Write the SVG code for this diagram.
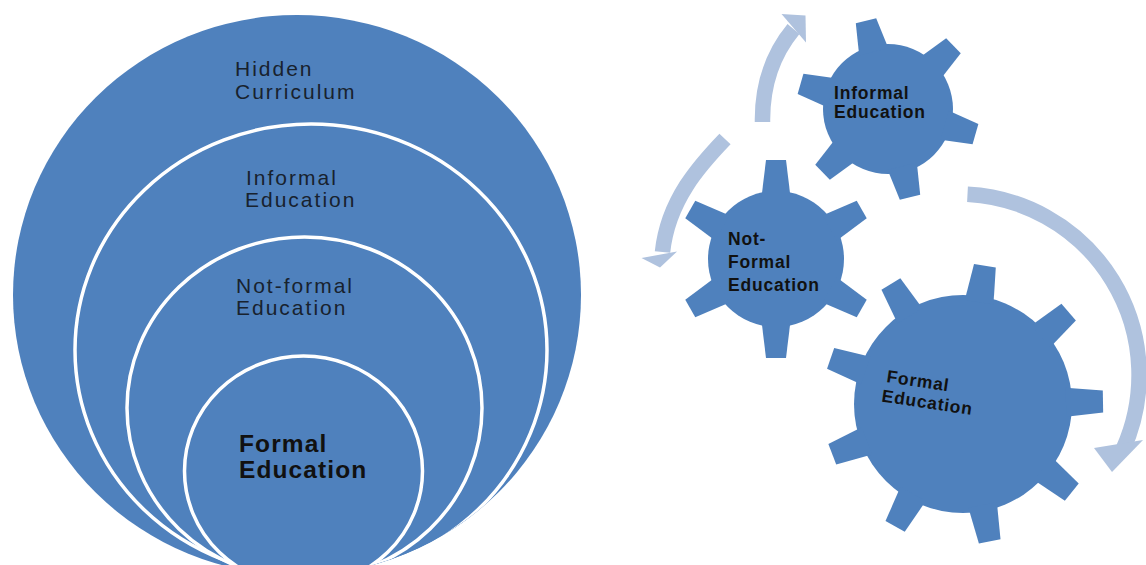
<svg xmlns="http://www.w3.org/2000/svg" width="1146" height="565" viewBox="0 0 1146 565">
<style>
.disc { fill: #4F81BD; }
.ring { fill: #4F81BD; stroke: #FFFFFF; stroke-width: 3.5; }
.gear { fill: #4F81BD; }
.lt { font-family: "Liberation Sans", Arial, sans-serif; font-size: 21px; letter-spacing: 2px; fill: #18222e; }
.lb { font-family: "Liberation Sans", Arial, sans-serif; font-size: 24.5px; font-weight: bold; letter-spacing: 1.1px; fill: #111111; }
.gt { font-family: "Liberation Sans", Arial, sans-serif; font-size: 17.5px; font-weight: bold; letter-spacing: 0.8px; fill: #111111; }
.band { fill: none; stroke: #AFC2DE; stroke-width: 15.5; stroke-linecap: butt; }
.head { fill: #AFC2DE; }
</style>
<defs>
<clipPath id="outerClip">
<ellipse cx="297" cy="295" rx="284" ry="280"/>
</clipPath>
<polygon id="toothS" points="59,-15 91,-10.5 91,10.5 59,15"/>
<polygon id="toothN" points="62,-14.5 99,-10 99,10 62,14.5"/>
<polygon id="toothL" points="103,-14.5 140,-11 140,11 103,14.5"/>
</defs>
<rect width="1146" height="565" fill="#FFFFFF"/>

<g id="hidden-curriculum">
<ellipse class="disc" cx="297" cy="295" rx="284" ry="280"/>
<text class="lt" x="235" y="76">Hidden</text>
<text class="lt" x="235" y="99">Curriculum</text>
</g>

<g id="informal-education-ring">
<ellipse class="ring" cx="311" cy="350" rx="236" ry="226" clip-path="url(#outerClip)"/>
<text class="lt" x="246" y="185">Informal</text>
<text class="lt" x="245" y="207">Education</text>
</g>

<g id="not-formal-education-ring">
<ellipse class="ring" cx="304.5" cy="408" rx="177.5" ry="171" clip-path="url(#outerClip)"/>
<text class="lt" x="236" y="293">Not-formal</text>
<text class="lt" x="236" y="315">Education</text>
</g>

<g id="formal-education-ring">
<ellipse class="ring" cx="303.5" cy="471" rx="119" ry="115" clip-path="url(#outerClip)"/>
<text class="lb" x="239" y="452">Formal</text>
<text class="lb" x="239" y="478">Education</text>
</g>

<g id="connectors">
<path class="band" d="M 762.5 122 C 762 85, 772 55, 793.5 29"/>
<polygon class="head" points="781.5,14 806,42.5 805.5,15.5"/>
<path class="band" d="M 725 139 C 700 165, 668 200, 662.5 252"/>
<polygon class="head" points="641.5,258 677,251.5 660,267.5"/>
<path class="band" d="M 967.5 194.2 A 181 181 0 0 1 1123.4 448.6"/>
<polygon class="head" points="1094,448 1143,440 1112,472"/>
</g>

<g id="gear-informal">
<circle class="gear" cx="888" cy="109" r="65"/>
<use href="#toothS" class="gear" transform="translate(888,109) rotate(-104)"/>
<use href="#toothS" class="gear" transform="translate(888,109) rotate(-44)"/>
<use href="#toothS" class="gear" transform="translate(888,109) rotate(16)"/>
<use href="#toothS" class="gear" transform="translate(888,109) rotate(76)"/>
<use href="#toothS" class="gear" transform="translate(888,109) rotate(136)"/>
<use href="#toothS" class="gear" transform="translate(888,109) rotate(196)"/>
<text class="gt" x="834" y="99">Informal</text>
<text class="gt" x="834" y="118">Education</text>
</g>

<g id="gear-not-formal">
<circle class="gear" cx="776" cy="259" r="68"/>
<use href="#toothN" class="gear" transform="translate(776,259) rotate(-90)"/>
<use href="#toothN" class="gear" transform="translate(776,259) rotate(-30)"/>
<use href="#toothN" class="gear" transform="translate(776,259) rotate(30)"/>
<use href="#toothN" class="gear" transform="translate(776,259) rotate(90)"/>
<use href="#toothN" class="gear" transform="translate(776,259) rotate(150)"/>
<use href="#toothN" class="gear" transform="translate(776,259) rotate(210)"/>
<text class="gt" x="728" y="245">Not-</text>
<text class="gt" x="728" y="268">Formal</text>
<text class="gt" x="728" y="291">Education</text>
</g>

<g id="gear-formal">
<circle class="gear" cx="963" cy="404" r="109"/>
<use href="#toothL" class="gear" transform="translate(963,404) rotate(-81)"/>
<use href="#toothL" class="gear" transform="translate(963,404) rotate(-41)"/>
<use href="#toothL" class="gear" transform="translate(963,404) rotate(-1)"/>
<use href="#toothL" class="gear" transform="translate(963,404) rotate(39)"/>
<use href="#toothL" class="gear" transform="translate(963,404) rotate(79)"/>
<use href="#toothL" class="gear" transform="translate(963,404) rotate(119)"/>
<use href="#toothL" class="gear" transform="translate(963,404) rotate(159)"/>
<use href="#toothL" class="gear" transform="translate(963,404) rotate(199)"/>
<use href="#toothL" class="gear" transform="translate(963,404) rotate(239)"/>
<g transform="translate(886,382) rotate(8.5)">
<text class="gt" x="0" y="0">Formal</text>
<text class="gt" x="-2" y="20">Education</text>
</g>
</g>
</svg>
